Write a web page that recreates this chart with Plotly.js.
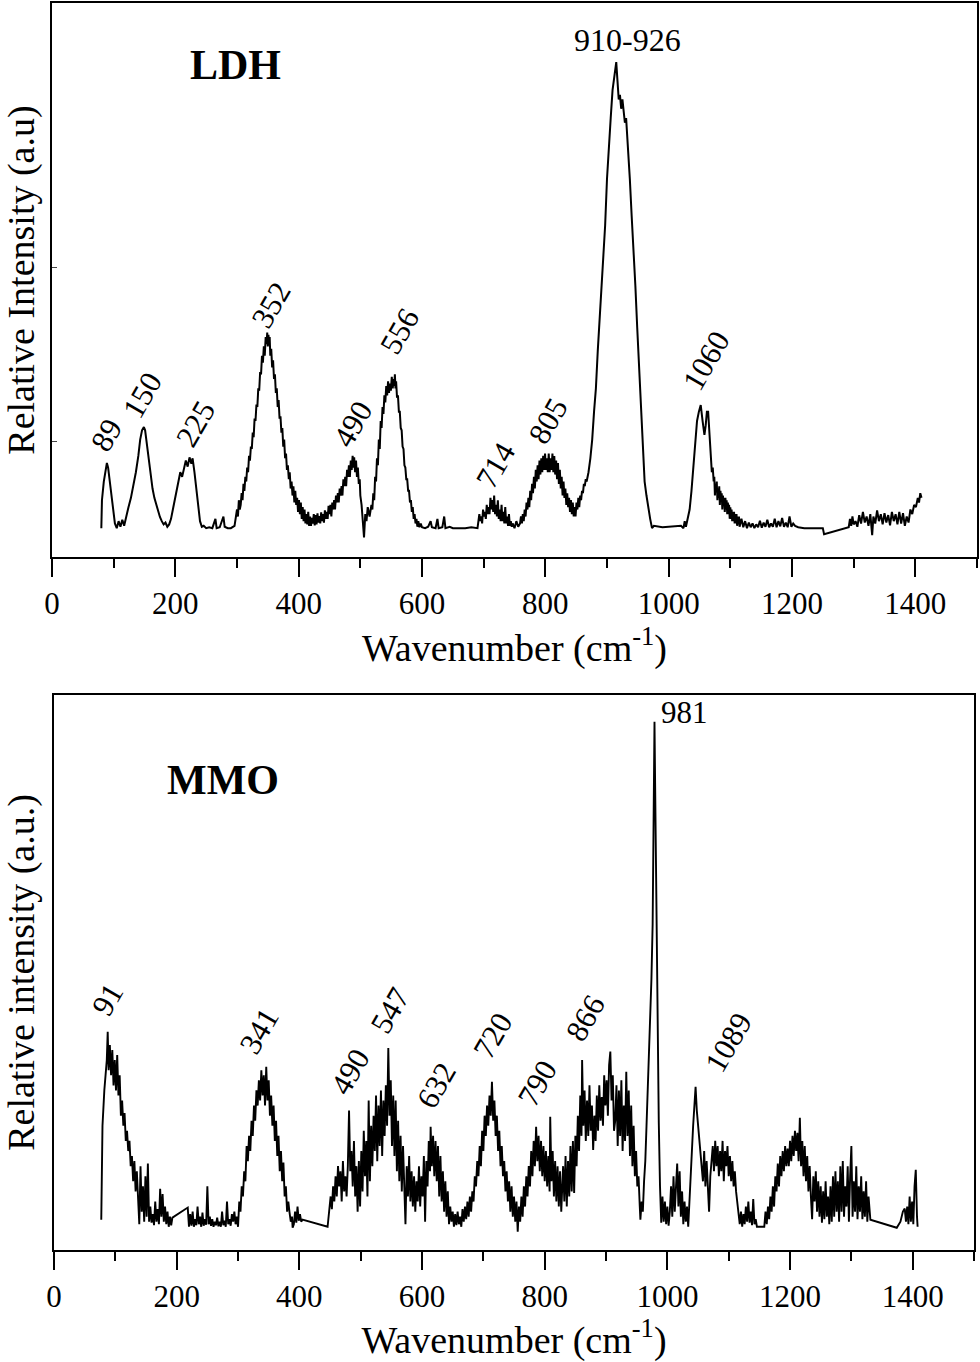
<!DOCTYPE html>
<html>
<head>
<meta charset="utf-8">
<script src="https://cdn.plot.ly/plotly-3.0.1.min.js"></script>
<style>
  html, body { margin: 0; padding: 0; background: #ffffff; }
  #chart { width: 980px; height: 1362px; }
</style>
</head>
<body>
<div id="chart"></div>
<script>
// Raman spectrum of the LDH sample: [wavenumber (cm-1), relative intensity]
const ldhSpectrum = [
  [80,0],[81,6],[84,10],[87,12],[89,14],[91,13],[93,11],[96,8],[99,4],[102,1],[105,0],[108,1.5],[111,0.3],[114,1.8],[117,0.5],
  [120,2.5],[124,4.5],[128,6.5],[132,9],[136,12],[140,15.5],[143,19],[146,21],[149,21.7],[151,21],[154,18],[157,14],[160,11],
  [163,8.5],[166,6.5],[169,5],[172,3.5],[175,2.4],[178,1.5],[181,0.8],[184,1.2],[187,0.3],[190,0.8],[193,2],[196,4],[199,6],
  [202,8],[205,9.5],[208,12],[211,11],[214,13],[217,14.5],[220,13.2],[223,15.2],[226,13.8],[228,15],[231,12],[234,8],[237,4],
  [240,1.5],[243,0.3],[246,0.5],[250,0],[255,0.2],[260,0],[265,2],[267,0],[272,0.2],[278,2.5],[280,0.3],[285,0],[290,0],
  [296,0.5],[298,2],[300,4],[301.5,2.5],[303,6],[304.5,4],[306,5],[307.5,7.5],[309,6],[310.5,9.5],[312,8],[313.5,11],[315,10],
  [316.5,13],[318,12],[319.5,15.5],[321,14.5],[322.5,17.5],[324,17],[325.5,20.5],[327,19.5],[328.5,23.5],[330,23],[331.5,26.5],
  [333,26],[334.5,30],[336,29.5],[337.5,33.5],[339,33],[340.5,37],[342,35.5],[343.5,39],[345,37],[346.5,41],[348,39.5],
  [349,42],[350,39],[351,41.5],[352,39.5],[353,41],[354,37],[355.5,38.5],[357,34.5],[358.5,36],[360,32],[361.5,33],[363,29],
  [364.5,30],[366,26],[367.5,27.5],[369,23.5],[370.5,24],[372,20.5],[373.5,21.5],[375,17.5],[376.5,19],[378,15],[379.5,16],
  [381,12.5],[382.5,13.5],[384,10.5],[385.5,12],[387,8.5],[388.5,10],[390,7],[391.5,9],[393,5.5],[394.5,8],[396,5],
  [397.5,6.5],[399,3.5],[400.5,6],[402,3],[403.5,5.5],[405,2],[406.5,4.5],[408,1.5],[409.5,4],[411,1],[412.5,3],[414,0.8],
  [415.5,3.5],[417,0.5],[418.5,2.5],[420,0.5],[421.5,2.2],[423,1],[424.5,3],[426,0.6],[427.5,2.8],[429,0.8],[430.5,3.2],
  [432,1.2],[433.5,2.6],[435,1],[436.5,3.4],[438,1.5],[439.5,3],[441,1.2],[442.5,3.8],[444,2],[445.5,3.5],[447,2],[448.5,4.8],
  [450,3],[451.5,5],[453,2.5],[454.5,5.5],[456,4],[457.5,6],[459,4],[460.5,7],[462,5.5],[463.5,7.5],[465,5.5],[466.5,8.5],
  [468,7],[469.5,9],[471,7],[472.5,10.5],[474,9],[475.5,11],[477,9],[478.5,12.5],[480,11],[481.5,13.5],[483,11],[484.5,14.5],
  [486,12.5],[487.5,15.5],[489,13],[490,15.2],[491.5,12],[493,14.5],[494.5,11],[496,13],[497.5,9.5],[499,10.5],[500,7],
  [502,5],[504,2],[506,-2],[508,3],[510,1.5],[512,4.5],[515,2.5],[518,5],[519.5,4],[521,7.5],[522.5,6],[524,11],[525.5,10],
  [527,15],[528.5,13.5],[530,19],[531.5,17],[533,23],[534.5,21.5],[536,26],[537.5,24.5],[539,28.5],[540.5,27],[542,30.5],
  [543.5,28.5],[545,31.5],[546.5,29],[548,31],[549.5,29.5],[551,32.5],[552.5,30],[554,32],[555,30.5],[556,33],[557,30],
  [558,31.5],[559.5,28],[561,28.5],[562.5,25],[564,25],[565.5,21.5],[567,21],[568.5,17.5],[570,17],[571.5,13.5],[573,13],
  [574.5,10.5],[576,10.5],[577.5,8],[579,8],[580.5,5.5],[582,6],[583.5,3.5],[585,4.5],[586.5,2],[588,3],[589.5,1],[591,2],
  [592.5,0.3],[594,1.5],[596,0.2],[598,1],[600,0.2],[605,0],[610,0.3],[614,1.5],[616,0.2],[622,0],[625,2],[627,0],[633,0.2],
  [636,2.5],[638,0],[645,0.3],[650,0],[660,0],[670,0],[680,0.2],[690,0],[693,3],[694.5,1.5],[696,2.5],[697.5,1],[699,4],
  [700.5,2.5],[702,3.5],[703.5,2],[705,5],[706.5,3],[708,4.5],[709.5,3],[711,6.5],[712.5,4],[714,6],[715.5,3.5],[717,7],
  [718.5,3],[720,5],[721.5,2.5],[723,6],[724.5,2],[726,4],[727.5,1.5],[729,5],[730.5,1.5],[732,3.5],[733.5,1],[735,4.5],
  [736.5,1],[738,2.5],[739.5,0.5],[741,3],[742.5,0.5],[744,1.5],[745.5,0.3],[747,1],[750,0],[753,1.5],[756,0.3],
  [759,1],[760.5,2.5],[762,1],[763.5,3],[765,1.5],[766.5,4],[768,2.5],[769.5,5.5],[771,4],[772.5,6.5],[774,4.5],[775.5,8],
  [777,6],[778.5,9.5],[780,7.5],[781.5,11],[783,8.5],[784.5,12.5],[786,10],[787.5,13.5],[789,10.5],[790.5,14.5],[792,11.5],
  [793.5,15],[795,12],[796.5,15.5],[798,12.5],[799.5,16],[801,12.5],[802.5,15],[804,12],[805.5,16],[807,12],[808.5,15],
  [810,12.5],[811.5,16],[813,12],[814.5,15.5],[816,11.5],[817.5,14.5],[819,10.5],[820.5,14],[822,9.5],[823.5,12.5],[825,8.5],
  [826.5,11],[828,7],[829.5,10],[831,6.5],[832.5,8.5],[834,5],[835.5,7.5],[837,4.5],[838.5,6.5],[840,3.5],[841.5,6],[843,3],
  [844.5,5.5],[846,2.5],[847.5,4.5],[849,2.5],[850.5,5.5],[852,4],[853.5,6.5],[855,4.5],[856.5,7],[858,6],[859.5,8],
  [861,7.5],[862.5,9.5],[864,9],[865.5,10.5],[867,10],[870,12],[873,15],[876,19],[879,25],
  [882,30],[885,38],[888,45],[891,52],[894,57],[897,65],[900,75],[903,83],[906,88],[909,94],[912,97],[915,100],[917,96],
  [919,92],[921,93],[923,90],[925,92],[927,90],[929,87],[931,88],[934,82],[937,75],[940,67],[943,60],[946,52],[949,43],
  [952,34],[955,25],[958,16],[961,10],[964,7],[967,4],[970,2],[973,0],[976,0.5],[990,0.2],[1010,0.3],[1020,0.5],[1024,0],
  [1026,1.5],[1028,0.3],[1031,2],[1034,4],[1037,8],[1040,13],[1043,18],[1046,23],[1049,25],[1052,26.4],[1055,23],[1058,20],
  [1060,22],[1062,25],[1064,25],[1066,21],[1068,16],[1070,12],[1071.5,13],[1073,10],[1074,11],[1075,7],[1076,9.5],[1077,8],
  [1078,10],[1079,6],[1080,8.5],[1081,6.5],[1082,9],[1083,5],[1084,8],[1085,6],[1086,7.5],[1087,4],[1088,7],
  [1089,5],[1090,6.5],[1091,3.5],[1092,6.5],[1093,4],[1094,6],[1095,3],[1096,5.5],[1097,3],[1098,5],[1099,2],[1100,4.5],
  [1101,2],[1102,4],[1103,1.5],[1104,3.5],[1105,1.5],[1106,3.5],[1107,1],[1108,3],[1109,1],[1110,3],[1111,0.5],[1112,2.5],
  [1113,0.8],[1114,2.5],[1115,0.3],[1118,2],[1121,0.2],[1124,1.5],[1127,0],[1130,1.2],[1133,0.2],[1136,1],[1139,0],
  [1142,0.8],[1145,0.2],[1148,1.6],[1151,0.1],[1154,1.2],[1157,0.3],[1160,1.8],[1163,0.2],[1166,1],[1169,0.3],[1172,2],
  [1175,0.2],[1178,1.5],[1181,0.4],[1184,2.2],[1187,0.3],[1190,1.2],[1193,0.2],[1196,2.5],[1199,0.3],[1202,1],[1205,0.5],
  [1210,0.2],[1220,0],[1250,0],[1252,-1.3],[1292,0.2],[1294,2],[1296,0.5],[1298,2.5],[1300,0.8],[1303,1.5],[1306,0.3],
  [1309,2.8],[1312,1],[1315,3.5],[1318,1.2],[1321,2.5],[1324,0.5],[1327,3],[1330,-1.5],[1332,2.5],[1335,1],[1338,3.8],
  [1341,1.5],[1344,3],[1347,0.8],[1350,3.2],[1353,1.2],[1356,2.8],[1359,0.6],[1362,3.5],[1365,1.5],[1368,3],[1371,0.8],
  [1374,3.5],[1377,1],[1380,3.2],[1383,0.5],[1386,2.5],[1389,1.2],[1392,4],[1395,3],[1398,5],[1401,4.5],[1404,6.5],
  [1406,5.5],[1408,7.5],[1410,6.5]
];

// Raman spectrum of the calcined MMO sample: [wavenumber (cm-1), relative intensity]
const mmoSpectrum = [
  [77,1.4],[79,20],[82,27],[84,29.7],[86,33],[87.5,38.6],[89,31],[91,36],[93,30],[95,35],[97,28],[99,33],[101,27],[103,34],
  [105,26],[107,30],[109,22],[111,25],[113,20],[115,22.5],[117,17],[119,19],[121,15],[123,17],[125,12],[127,14],[129,9],
  [131,13],[133,7],[135,11],[137,6],[139,0.5],[141,12],[143,3],[145,8],[147,1],[149,10],[151,2],[153,12.5],[155,1],[157,4],
  [159,0.8],[161,2.5],[163,0.3],[165,5],[167,1],[169,3.5],[171,0.5],[173,7.5],[175,2],[177,6.5],[179,1],[181,4],[183,0.5],
  [185,3],[187,0],[189,2],[191,0.3],[193,1.8],[218,3.8],[220,0],[222,2.5],[224,0.2],[226,3],[228,0],[230,1.5],[232,0.3],
  [234,4],[236,0.5],[238,2],[240,0],[242,2.8],[244,0.2],[246,1.5],[248,0.4],[250,8],[252,0.5],[254,2],[256,0.2],[258,1.5],
  [260,0],[262,1],[264,0.3],[266,1.8],[268,0.1],[270,1],[272,0],[274,3],[276,0.3],[278,1.2],[280,0],[282,5],[284,0.5],
  [286,1.5],[288,0.2],[290,2.5],[292,1],[294,3],[296,0.5],[298,2],[300,0],[302,5],[304,3],[306,8],[308,6],[310,11],[312,9],
  [314,16],[316,13],[318,18],[320,15],[322,21],[324,18],[326,24],[328,21],[330,27],[332,24],[334,29],[336,25],[338,31],
  [340,26],[342,30],[344,24],[346,31.7],[348,25],[350,29],[352,22],[354,26],[356,20],[358,24],[360,17],[362,21],[364,14],
  [366,18],[368,11],[370,15],[372,9],[374,12.7],[376,6],[378,8],[380,3],[382,5],[384,2.8],[386,1],[388,2],[389,-0.2],
  [391,0.5],[393,3],[395,0.8],[397,4],[399,1.2],[401,2.5],[403,1],[405,1.4],[446,0],[448,2],[450,4],[451,6],[453,3.5],
  [455,8],[457,5],[459,10],[461,6],[463,12],[465,8],[467,11],[469,5],[471,13],[473,7],[475,10],[477,6],[479,12],[481,23],
  [483,11],[485,15],[487,8],[489,17],[491,6],[493,12],[495,3],[497,13],[499,4],[501,15],[503,7],[505,19],[507,10],[509,17],
  [511,6],[513,25],[515,9],[517,20],[519,12],[521,22],[523,15],[525,26],[527,13],[529,24],[531,16],[533,27],[535,14],
  [537,25],[539,18],[541,28],[543,20],[545,35.4],[547,22],[549,29],[551,16],[553,26],[555,14],[557,25],[559,11],[561,21],
  [563,9],[565,18],[567,7],[569,16],[571,5],[573,0.5],[575,12],[577,6],[579,14],[581,5],[583,11],[585,4],[587,10],[589,3],
  [591,9],[593,5],[595,12],[597,4],[599,10],[601,6],[603,14],[605,1],[607,13],[609,8],[611,17],[613,11],[614,19.8],[616,12],
  [618,18],[620,10],[622,17],[624,9],[626,16],[628,6],[630,14],[632,5],[634,11],[636,3],[638,9],[640,2],[642,7],[644,0.5],
  [646,4],[648,1],[650,3],[652,0],[654,2.5],[656,0.3],[658,3],[660,0.5],[662,2],[664,0],[666,3.5],[668,1],[670,4],[672,1.5],
  [674,5],[676,2],[678,6],[680,3],[682,7],[684,5],[686,10],[688,8],[690,13],[692,10],[694,16],[696,12],[698,19],[700,15],
  [702,22],[704,18],[706,24],[708,20],[710,26],[712,22],[714,28.7],[716,21],[718,25],[720,18],[722,22],[724,15],[726,19],
  [728,12],[730,16],[732,10],[734,13],[736,7],[738,11],[740,5],[742,9],[744,3],[746,8],[748,2],[750,6],[752,1],[754,5],
  [756,-1],[758,4],[760,1],[762,6],[764,2],[766,8],[768,4],[770,10],[772,6],[774,12],[776,8],[778,15],[780,10],[782,17],
  [784,12],[786,19.8],[788,13],[790,18],[792,11],[794,17],[796,10],[798,16],[800,9],[802,15],[804,8],[806,14],[808,7],
  [809,21.8],[811,9],[813,15],[815,6],[817,13],[819,5],[821,12],[823,4],[825,11],[827,3],[828,6],[830,12],[832,5],[834,14],
  [836,4],[838,13],[840,6],[842,16],[844,7],[846,17],[848,6.7],[850,18],[852,12],[854,22],[856,15],[858,26],[860,18],
  [861,33],[863,20],[865,27],[867,17],[869,25],[871,18],[873,28],[875,19],[877,24],[879,15.2],[881,22],[883,17],[885,26],
  [887,19],[889,28],[891,21],[893,25.7],[895,20],[897,30],[899,24],[901,29],[903,22],[905,32],[907,34.7],[909,25],[911,30],
  [913,19],[915,21],[917,28],[919,16],[921,27],[923,18],[925,29],[927,15],[929,24],[931,17],[933,30.7],[935,18],[937,27],
  [939,14],[941,24],[943,12],[945,20],[947,10],[949,15],[951,8],[953,10],[955,4],[956,1.4],[958,5],[960,3],[962,9],[964,13],
  [966,20],[968,27],[970,35.6],[972,42],[974,49],[976,60],[977,72.7],[978,85],[979,100],[980,88],[981,75],[981.5,67],
  [982.5,55],[983.5,49],[985,30],[986,20.6],[988,8],[990,0.8],[992,6],[994,1],[996,5],[998,0.5],[1000,4],[1002,0.2],
  [1004,3],[1006,8],[1008,2],[1010,10],[1012,3],[1014,9],[1016,12.5],[1018,4],[1020,11],[1022,2],[1024,7],[1026,0.5],
  [1028,5],[1030,1],[1032,4],[1034,0],[1036,6],[1038,10],[1040,15],[1042,20],[1044,24],[1046,27.7],[1048,23],[1050,20],
  [1052,18],[1054,14],[1056,12],[1058,9],[1060,15],[1062,8],[1064,13],[1066,6],[1068,3],[1070,10],[1072,14],[1074,16],
  [1076,11],[1078,17],[1080,12],[1082,16],[1084,10],[1086,15],[1088,11],[1090,17],[1092,9],[1094,15],[1096,12],[1098,16],
  [1100,10],[1102,14],[1104,9],[1106,13],[1108,8],[1110,11],[1112,7],[1114,5],[1116,3],[1118,0.5],[1120,3],[1122,0],
  [1124,2.5],[1126,0.5],[1128,4],[1130,1],[1132,5],[1134,0.8],[1136,3],[1138,0.3],[1140,5.5],[1142,0.5],[1144,1.5],[1146,0],
  [1158,0],[1160,3],[1162,0.5],[1164,4],[1166,1.5],[1168,6],[1170,3],[1172,8],[1174,4],[1176,10],[1178,7],[1180,12.5],
  [1182,8],[1184,14],[1186,10],[1188,15],[1190,11],[1192,16],[1194,12],[1196,15.5],[1198,12],[1200,17],[1202,13],[1204,18],
  [1206,14],[1208,19],[1210,15],[1212,18.6],[1214,13],[1216,21.6],[1218,12],[1220,17],[1222,10],[1224,16],[1226,9],
  [1228,14],[1230,7],[1232,12],[1234,6],[1236,1.5],[1238,10],[1240,5],[1242,11],[1244,3],[1246,9],[1248,2],[1250,8],
  [1252,0.8],[1254,7],[1256,1.5],[1258,9],[1260,2],[1262,6],[1264,0.5],[1266,8],[1268,1],[1270,10],[1272,2],[1274,11],
  [1276,3],[1278,9],[1280,1],[1282,12],[1284,3],[1286,13],[1288,2],[1290,8],[1292,4],[1294,12],[1296,1],[1298,10],[1300,16],
  [1302,2],[1304,9],[1306,3],[1308,12],[1310,1.5],[1312,8],[1314,3],[1316,10],[1318,1.5],[1320,7],[1322,2],[1324,9],
  [1326,1],[1328,6],[1331,1.4],[1374,-0.2],[1380,1],[1384,3],[1387,3.6],[1389,1],[1391,4],[1393,0.5],[1395,6],[1397,1],
  [1399,5],[1401,0.5],[1403,8],[1405,11.3],[1407,2],[1408,0]
];

// Peak labels: [text, wavenumber, intensity] (label centres, rotated)
const ldhPeakLabels = [
  ['89', 89, 20], ['150', 146, 28.5], ['225', 233, 22.5], ['352', 356, 47.9], ['490', 488, 22.5],
  ['556', 563, 42.3], ['714', 719, 13.5], ['805', 805, 23], ['1060', 1061, 36]
];
const mmoPeakLabels = [
  ['91', 87, 45], ['341', 335, 38.8], ['490', 483, 30.7], ['547', 548, 42.8], ['632', 623, 28],
  ['720', 716, 37.8], ['790', 789, 28.5], ['866', 867, 41.4], ['1089', 1100, 36.4]
];

const xTickValues = [0, 200, 400, 600, 800, 1000, 1200, 1400];
const serif = 'Liberation Serif, Times New Roman, serif';

const traces = [
  {
    x: ldhSpectrum.map(p => p[0]), y: ldhSpectrum.map(p => p[1]),
    xaxis: 'x', yaxis: 'y', type: 'scatter', mode: 'lines',
    line: { color: '#000000', width: 2 }, hoverinfo: 'skip', showlegend: false
  },
  {
    x: mmoSpectrum.map(p => p[0]), y: mmoSpectrum.map(p => p[1]),
    xaxis: 'x2', yaxis: 'y2', type: 'scatter', mode: 'lines',
    line: { color: '#000000', width: 1.9 }, hoverinfo: 'skip', showlegend: false
  }
];

function xAxis(domain, anchor, titleHtml) {
  return {
    domain: domain, anchor: anchor, range: [0, 1500],
    tickmode: 'array', tickvals: xTickValues, ticktext: xTickValues.map(String),
    ticks: 'outside', ticklen: 18, tickwidth: 2, tickcolor: '#000',
    minor: { dtick: 100, tick0: 0, ticks: 'outside', ticklen: 9, tickwidth: 2, tickcolor: '#000' },
    showline: true, linecolor: '#000', linewidth: 2, mirror: true,
    showgrid: false, zeroline: false, automargin: false,
    tickfont: { family: serif, size: 31, color: '#000' },
    title: { text: titleHtml, font: { family: serif, size: 38, color: '#000' }, standoff: 14 }
  };
}

function yAxis(domain, anchor, range, titleText, tickValues) {
  return {
    domain: domain, anchor: anchor, range: range,
    showline: true, linecolor: '#000', linewidth: 2, mirror: true,
    showgrid: false, zeroline: false, automargin: false,
    showticklabels: false,
    tickmode: 'array', tickvals: tickValues, ticks: tickValues.length ? 'inside' : '',
    ticklen: 5, tickwidth: 1, tickcolor: '#444',
    title: { text: titleText, font: { family: serif, size: 38, color: '#000' }, standoff: 6 }
  };
}

const annotations = [];
ldhPeakLabels.forEach(([t, wx, wy]) => annotations.push({
  text: t, x: wx, y: wy, xref: 'x', yref: 'y', showarrow: false, textangle: -60,
  font: { family: serif, size: 31, color: '#000' }
}));
mmoPeakLabels.forEach(([t, wx, wy]) => annotations.push({
  text: t, x: wx, y: wy, xref: 'x2', yref: 'y2', showarrow: false, textangle: -60,
  font: { family: serif, size: 31, color: '#000' }
}));
annotations.push(
  { text: '910-926', x: 933, y: 104.7, xref: 'x', yref: 'y', showarrow: false,
    font: { family: serif, size: 32, color: '#000' } },
  { text: '981', x: 987, y: 101.8, xref: 'x2', yref: 'y2', showarrow: false, xanchor: 'left',
    font: { family: serif, size: 31, color: '#000' } },
  { text: '<b>LDH</b>', x: 298, y: 99.4, xref: 'x', yref: 'y', showarrow: false,
    font: { family: serif, size: 42, color: '#000' } },
  { text: '<b>MMO</b>', x: 275, y: 88.5, xref: 'x2', yref: 'y2', showarrow: false,
    font: { family: serif, size: 42, color: '#000' } }
);

const layout = {
  width: 980, height: 1362,
  font: { family: serif, size: 31, color: '#000' },
  margin: { l: 52, r: 3, t: 3, b: 112 },
  paper_bgcolor: '#ffffff', plot_bgcolor: '#ffffff',
  showlegend: false,
  xaxis: xAxis([0, 1], 'y', 'Wavenumber (cm<sup>-1</sup>)'),
  yaxis: yAxis([0.5557, 1], 'x', [-6.2, 112.7], 'Relative Intensity (a.u)', [18.5, 56]),
  xaxis2: xAxis([0.0022, 0.9968], 'y2', 'Wavenumber (cm<sup>-1</sup>)'),
  yaxis2: yAxis([0, 0.4451], 'x2', [-4.6, 105.3], 'Relative intensity (a.u.)', []),
  annotations: annotations
};

Plotly.newPlot('chart', traces, layout, { displayModeBar: false, staticPlot: true });
</script>
</body>
</html>
